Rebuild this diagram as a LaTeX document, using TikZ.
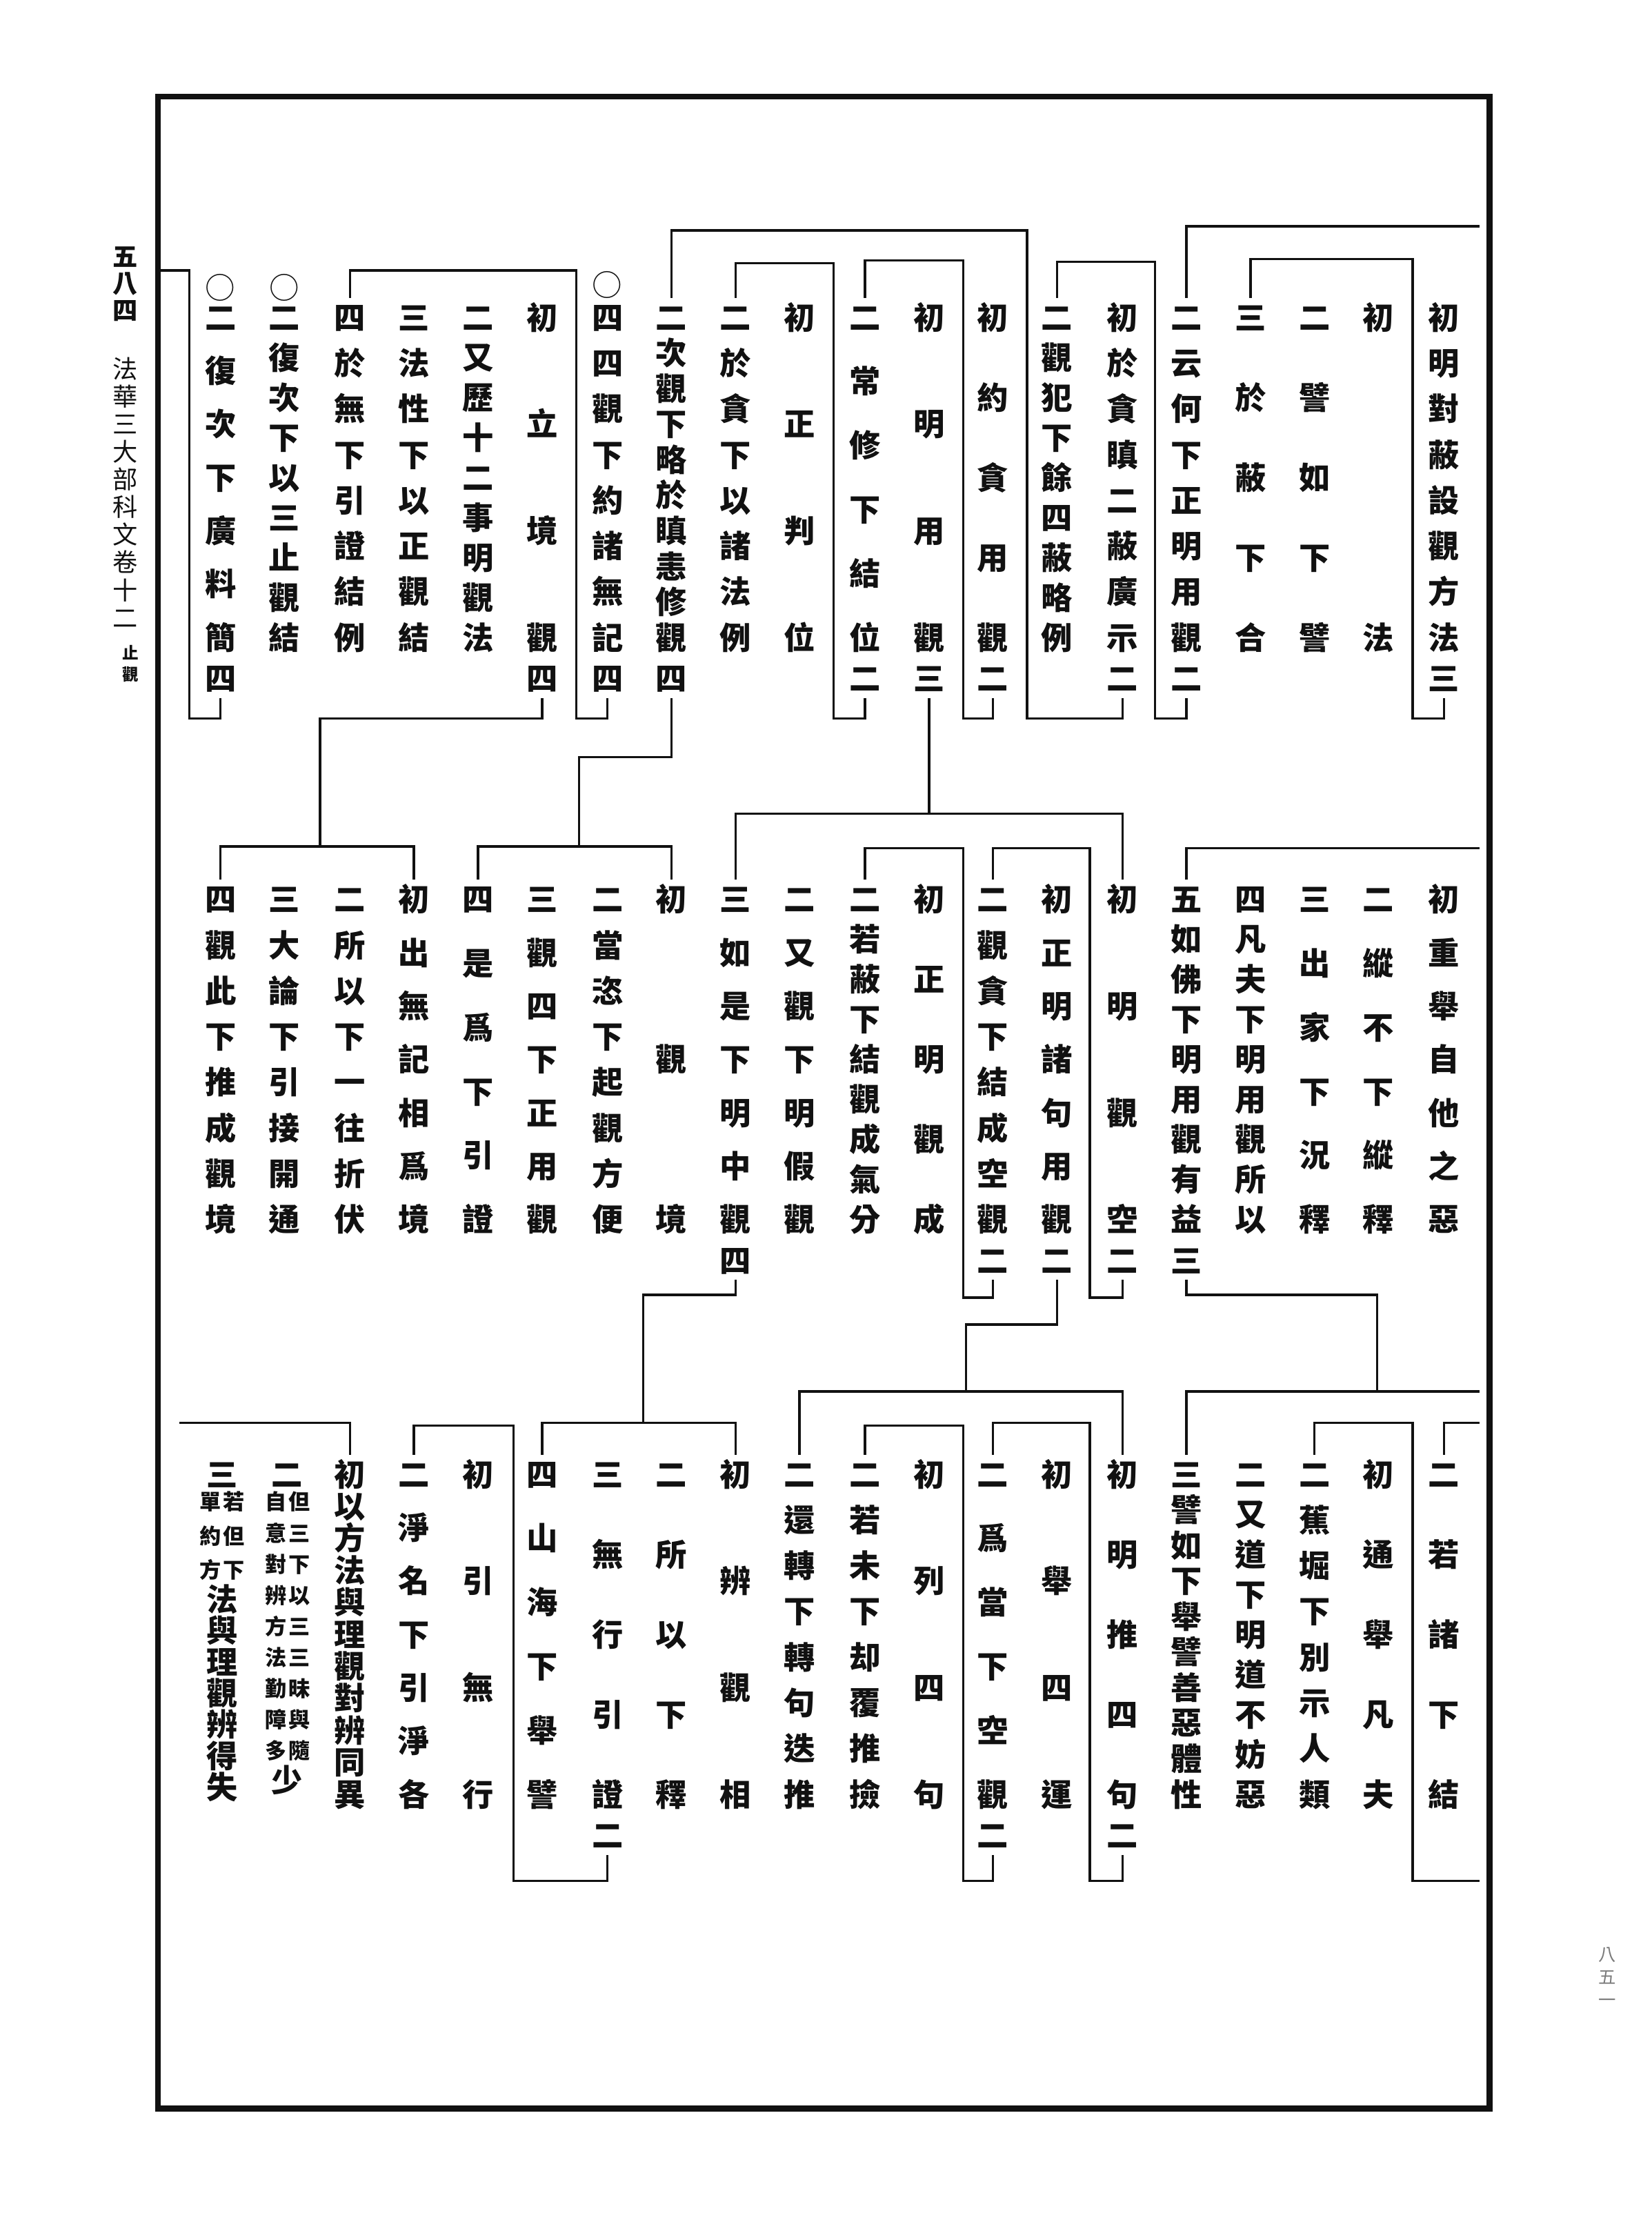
\documentclass[tikz,border=0pt]{standalone}
\usepackage{fontspec}
\usepackage{tikz}
\newfontfamily\kwfont{Noto Sans CJK TC}
\definecolor{inkblack}{HTML}{111111}
\definecolor{marginink}{HTML}{7A7A7A}

% one character of a column, boxed to a full em so the centres line up
\newlength\chwd
\setlength\chwd{0.8cm}
\newcommand\ch[1]{\hbox to \chwd{\hss\raisebox{0pt}[0.88em][0.12em]{#1}\hss}}
\def\spreadloop#1{\ifx\relax#1\else\vfill\ch{#1}\expandafter\spreadloop\fi}
\def\spreadstart#1{\ch{#1}\spreadloop}
% characters spread evenly: first centre to last centre = #1
\newcommand\spreadcol[2]{\vbox to \dimexpr#1+0.88em\relax{\offinterlineskip\spreadstart#2\relax}}
% a column of the outline: text over the row height, count digit below it
\newcommand\kw[2]{\vbox{\offinterlineskip\spreadcol{4.5cm}{#1}%
  \if\relax\detokenize{#2}\relax\else\kern0.14cm\ch{#2}\fi}}
% small two-line gloss
\newcommand\smallkw[2]{{\fontsize{8.6pt}{8.6pt}\selectfont\setlength\chwd{0.33cm}\spreadcol{#1}{#2}}}

\begin{document}
\begin{tikzpicture}[x=0.02cm, y=-0.02cm,
    colnode/.style={anchor=north, inner sep=0pt, outer sep=1.5pt, text=inkblack,
                    font=\fontsize{12.5pt}{12.5pt}\selectfont\kwfont\bfseries},
    ring/.style={inner sep=0pt, text=inkblack, font=\fontsize{12pt}{12pt}\selectfont\kwfont},
    margin/.style={anchor=north, inner sep=0pt, text=inkblack,
                   font=\fontsize{10pt}{10pt}\selectfont\kwfont},
    link/.style={draw=inkblack, line width=0.95pt},
    pageframe/.style={draw=inkblack, line width=2.3pt},
]
    \useasboundingbox (0,0) rectangle (1161,1568);

    % ── Page frame and margins ──
    \coordinate (framenw) at (111,68);
    \coordinate (framese) at (1047,1482);
    \draw[pageframe] (framenw) rectangle (framese);

    \node[margin, font=\fontsize{10pt}{10pt}\selectfont\kwfont\bfseries] (pagenum) at (88,171) {\spreadcol{0.76cm}{五八四}};
    \node[margin] (booktitle) at (88,250) {\spreadcol{3.5cm}{法華三大部科文卷十二}};
    \node[margin, font=\fontsize{6.5pt}{6.5pt}\selectfont\kwfont\bfseries] (juan) at (92,453) {\spreadcol{0.3cm}{止觀}};
    \node[margin, text=marginink, font=\fontsize{7pt}{7pt}\selectfont\kwfont] (leafnum) at (1130,1367) {\spreadcol{0.64cm}{八五一}};

    % ── Top row ──
    \node[colnode] (u1)  at (1015,209.4) {\kw{初明對蔽設觀方法}{三}};
    \node[colnode] (u2)  at (969,209.4)  {\kw{初法}{}};
    \node[colnode] (u3)  at (924,209.4)  {\kw{二譬如下譬}{}};
    \node[colnode] (u4)  at (879,209.4)  {\kw{三於蔽下合}{}};
    \node[colnode] (u5)  at (834,209.4)  {\kw{二云何下正明用觀}{二}};
    \node[colnode] (u6)  at (789,209.4)  {\kw{初於貪瞋二蔽廣示}{二}};
    \node[colnode] (u7)  at (743,209.4)  {\kw{二觀犯下餘四蔽略例}{}};
    \node[colnode] (u8)  at (698,209.4)  {\kw{初約貪用觀}{二}};
    \node[colnode] (u9)  at (653,209.4)  {\kw{初明用觀}{三}};
    \node[colnode] (u10) at (608,209.4)  {\kw{二常修下結位}{二}};
    \node[colnode] (u11) at (562,209.4)  {\kw{初正判位}{}};
    \node[colnode] (u12) at (517,209.4)  {\kw{二於貪下以諸法例}{}};
    \node[colnode] (u13) at (472,209.4)  {\kw{二次觀下略於瞋恚修觀}{四}};
    \node[colnode] (u14) at (427,209.4)  {\kw{四四觀下約諸無記}{四}};
    \node[colnode] (u15) at (381,209.4)  {\kw{初立境觀}{四}};
    \node[colnode] (u16) at (336,209.4)  {\kw{二又歷十二事明觀法}{}};
    \node[colnode] (u17) at (291,209.4)  {\kw{三法性下以正觀結}{}};
    \node[colnode] (u18) at (246,209.4)  {\kw{四於無下引證結例}{}};
    \node[colnode] (u19) at (200,209.4)  {\kw{二復次下以三止觀結}{}};
    \node[colnode] (u20) at (155,209.4)  {\kw{二復次下廣料簡}{四}};

    \node[ring] (ring14) at (427,200) {○};
    \node[ring] (ring19) at (200,202) {○};
    \node[ring] (ring20) at (155,202) {○};

    \coordinate (uedge) at (1040,159);
    \draw[link] (u5.north) |- (uedge);
    \coordinate (ua1) at (993,182);
    \coordinate (ua2) at (993,505);
    \draw[link] (u4.north) |- (ua1) -- (ua2) -| (u1.south);
    \coordinate (ub1) at (812,184);
    \coordinate (ub2) at (812,505);
    \draw[link] (u7.north) |- (ub1) -- (ub2) -| (u5.south);
    \coordinate (uc1) at (722,162);
    \coordinate (uc2) at (722,505);
    \draw[link] (u13.north) |- (uc1) -- (uc2) -| (u6.south);
    \coordinate (ud1) at (677,183);
    \coordinate (ud2) at (677,505);
    \draw[link] (u10.north) |- (ud1) -- (ud2) -| (u8.south);
    \coordinate (ue1) at (586,185);
    \coordinate (ue2) at (586,505);
    \draw[link] (u12.north) |- (ue1) -- (ue2) -| (u10.south);
    \coordinate (uf1) at (405,190);
    \coordinate (uf2) at (405,505);
    \draw[link] (u18.north) |- (uf1) -- (uf2) -| (u14.south);
    \coordinate (ug0) at (113,190);
    \coordinate (ug1) at (133,190);
    \coordinate (ug2) at (133,505);
    \draw[link] (ug0) -- (ug1) -- (ug2) -| (u20.south);

    % ── Middle row ──
    \node[colnode] (m1)  at (1015,618.4) {\kw{初重舉自他之惡}{}};
    \node[colnode] (m2)  at (969,618.4)  {\kw{二縱不下縱釋}{}};
    \node[colnode] (m3)  at (924,618.4)  {\kw{三出家下況釋}{}};
    \node[colnode] (m4)  at (879,618.4)  {\kw{四凡夫下明用觀所以}{}};
    \node[colnode] (m5)  at (834,618.4)  {\kw{五如佛下明用觀有益}{三}};
    \node[colnode] (m6)  at (789,618.4)  {\kw{初明觀空}{二}};
    \node[colnode] (m7)  at (743,618.4)  {\kw{初正明諸句用觀}{二}};
    \node[colnode] (m8)  at (698,618.4)  {\kw{二觀貪下結成空觀}{二}};
    \node[colnode] (m9)  at (653,618.4)  {\kw{初正明觀成}{}};
    \node[colnode] (m10) at (608,618.4)  {\kw{二若蔽下結觀成氣分}{}};
    \node[colnode] (m11) at (562,618.4)  {\kw{二又觀下明假觀}{}};
    \node[colnode] (m12) at (517,618.4)  {\kw{三如是下明中觀}{四}};
    \node[colnode] (m13) at (472,618.4)  {\kw{初觀境}{}};
    \node[colnode] (m14) at (427,618.4)  {\kw{二當恣下起觀方便}{}};
    \node[colnode] (m15) at (381,618.4)  {\kw{三觀四下正用觀}{}};
    \node[colnode] (m16) at (336,618.4)  {\kw{四是爲下引證}{}};
    \node[colnode] (m17) at (291,618.4)  {\kw{初出無記相爲境}{}};
    \node[colnode] (m18) at (246,618.4)  {\kw{二所以下一往折伏}{}};
    \node[colnode] (m19) at (200,618.4)  {\kw{三大論下引接開通}{}};
    \node[colnode] (m20) at (155,618.4)  {\kw{四觀此下推成觀境}{}};

    \coordinate (ma1) at (789,572);
    \coordinate (ma2) at (517,572);
    \draw[link] (u9.south) -- (u9.south |- ma1);
    \draw[link] (m6.north) |- (ma1) -- (ma2) -| (m12.north);
    \coordinate (medge) at (1040,596);
    \draw[link] (m5.north) |- (medge);
    \coordinate (mb1) at (766,596);
    \coordinate (mb2) at (766,912);
    \draw[link] (m8.north) |- (mb1) -- (mb2) -| (m6.south);
    \coordinate (mc1) at (677,596);
    \coordinate (mc2) at (677,912);
    \draw[link] (m10.north) |- (mc1) -- (mc2) -| (m8.south);
    \coordinate (md1) at (407,532);
    \coordinate (md2) at (407,595);
    \draw[link] (u13.south) |- (md1) -- (md2);
    \draw[link] (m13.north) |- (md2) -| (m16.north);
    \coordinate (me1) at (225,505);
    \coordinate (me2) at (225,595);
    \draw[link] (u15.south) |- (me1) -- (me2);
    \draw[link] (m17.north) |- (me2) -| (m20.north);

    % ── Bottom row ──
    \node[colnode] (b1)  at (1015,1022.4) {\kw{二若諸下結}{}};
    \node[colnode] (b2)  at (969,1022.4)  {\kw{初通舉凡夫}{}};
    \node[colnode] (b3)  at (924,1022.4)  {\kw{二蕉堀下別示人類}{}};
    \node[colnode] (b4)  at (879,1022.4)  {\kw{二又道下明道不妨惡}{}};
    \node[colnode] (b5)  at (834,1022.4)  {\kw{三譬如下舉譬善惡體性}{}};
    \node[colnode] (b6)  at (789,1022.4)  {\kw{初明推四句}{二}};
    \node[colnode] (b7)  at (743,1022.4)  {\kw{初舉四運}{}};
    \node[colnode] (b8)  at (698,1022.4)  {\kw{二爲當下空觀}{二}};
    \node[colnode] (b9)  at (653,1022.4)  {\kw{初列四句}{}};
    \node[colnode] (b10) at (608,1022.4)  {\kw{二若未下却覆推撿}{}};
    \node[colnode] (b11) at (562,1022.4)  {\kw{二還轉下轉句迭推}{}};
    \node[colnode] (b12) at (517,1022.4)  {\kw{初辨觀相}{}};
    \node[colnode] (b13) at (472,1022.4)  {\kw{二所以下釋}{}};
    \node[colnode] (b14) at (427,1022.4)  {\kw{三無行引證}{二}};
    \node[colnode] (b15) at (381,1022.4)  {\kw{四山海下舉譬}{}};
    \node[colnode] (b16) at (336,1022.4)  {\kw{初引無行}{}};
    \node[colnode] (b17) at (291,1022.4)  {\kw{二淨名下引淨各}{}};
    \node[colnode] (b18) at (246,1022.4)  {\kw{初以方法與理觀對辨同異}{}};
    \node[colnode] (b19) at (202,1022.4)  {\vbox{\offinterlineskip\ch{二}\kern0.02cm
        \hbox to \chwd{\hss\smallkw{3.5cm}{自意對辨方法勤障多}\smallkw{3.5cm}{但三下以三三昧與隨}\hss}%
        \kern0.04cm\ch{少}}};
    \node[colnode] (b20) at (156,1022.4)  {\vbox{\offinterlineskip\ch{三}\kern0.02cm
        \hbox to \chwd{\hss\smallkw{0.96cm}{單約方}\smallkw{0.96cm}{若但下}\hss}%
        \kern0.04cm\spreadcol{2.6cm}{法與理觀辨得失}}};

    \coordinate (mf1) at (968,910);
    \coordinate (mf2) at (968,978);
    \draw[link] (m5.south) |- (mf1) -- (mf2);
    \coordinate (dedge1) at (1040,978);
    \draw[link] (b5.north) |- (dedge1);
    \coordinate (dedge2) at (1040,1000);
    \draw[link] (b1.north) |- (dedge2);
    \coordinate (da1) at (993,1000);
    \coordinate (da2) at (993,1322);
    \coordinate (dedge3) at (1040,1322);
    \draw[link] (b3.north) |- (da1) -- (da2) -- (dedge3);
    \coordinate (dj1) at (679,931);
    \coordinate (dj2) at (679,978);
    \draw[link] (m7.south) |- (dj1) -- (dj2);
    \draw[link] (b6.north) |- (dj2) -| (b11.north);
    \coordinate (dc1) at (766,1000);
    \coordinate (dc2) at (766,1322);
    \draw[link] (b8.north) |- (dc1) -- (dc2) -| (b6.south);
    \coordinate (dd1) at (677,1002);
    \coordinate (dd2) at (677,1322);
    \draw[link] (b10.north) |- (dd1) -- (dd2) -| (b8.south);
    \coordinate (dk1) at (452,910);
    \coordinate (dk2) at (452,1000);
    \draw[link] (m12.south) |- (dk1) -- (dk2);
    \draw[link] (b12.north) |- (dk2) -| (b15.north);
    \coordinate (de1) at (361,1002);
    \coordinate (de2) at (361,1322);
    \draw[link] (b17.north) |- (de1) -- (de2) -| (b14.south);
    \coordinate (dedge4) at (126,1000);
    \draw[link] (b18.north) |- (dedge4);

\end{tikzpicture}
\end{document}
